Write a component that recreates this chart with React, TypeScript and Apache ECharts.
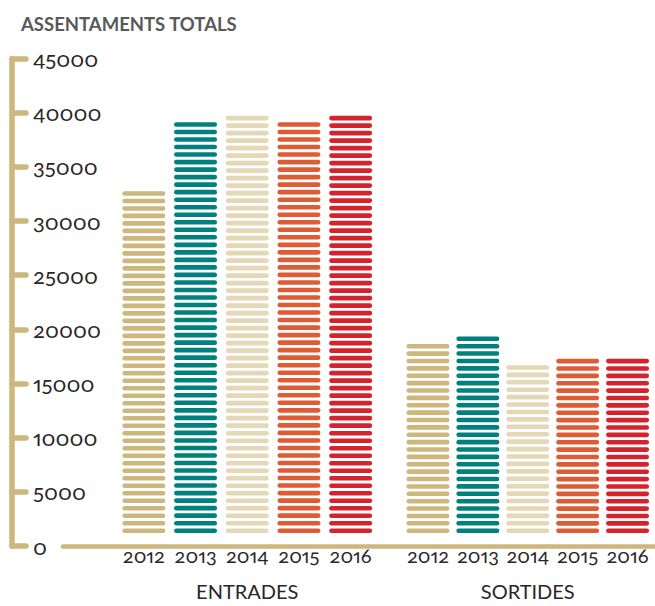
import React, { useEffect, useRef } from "react";
import * as echarts from "echarts";

const title = "ASSENTAMENTS TOTALS";
const years = ["2012", "2013", "2014", "2015", "2016"];
const entrades = [32500, 39000, 39600, 39000, 39600];
const sortides = [18100, 18800, 16100, 16700, 16700];
const groupNames = ["ENTRADES", "SORTIDES"];
const yearColors = ["#cdb77c", "#00817d", "#e5d8b7", "#dd5b35", "#d4232d"];
const yMax = 45000;
const yStep = 5000;

const TAN = "#cdb77c";
const TXT = "#2a2627";
const FONT = "Lato";

const GRID_TOP = 58.5;
const GRID_BOTTOM = 60;

function stripes(params: any, api: any) {
  const idx = api.value(0);
  const v = api.value(1);
  const base = api.coord([idx, 0]);
  const top = api.coord([idx, v]);
  const color = api.visual("color");
  const w = 43;
  const h = 4.6;
  const nominal = 7.5;
  const bottomY = base[1] - 3 - h;
  const span = bottomY - top[1];
  const n = Math.max(1, Math.round(span / nominal) + 1);
  const period = n > 1 ? span / (n - 1) : 0;
  const children: any[] = [];
  for (let k = 0; k < n; k++) {
    const y = bottomY - k * period;
    children.push({
      type: "rect",
      shape: { x: base[0] - w / 2, y, width: w, height: h, r: h / 2 },
      style: { fill: color },
    });
  }
  return { type: "group", children };
}

export default function App() {
  const ref = useRef<HTMLDivElement>(null);
  useEffect(() => {
    document.body.style.margin = "0";
    const chart = echarts.init(ref.current!, null, { renderer: "svg" });
    const hiddenY = (gi: number) => ({
      type: "value",
      gridIndex: gi,
      min: 0,
      max: yMax,
      interval: yStep,
      show: false,
    });
    const catX = (gi: number, name: string) => ({
      type: "category",
      gridIndex: gi,
      data: years,
      axisLine: { show: false },
      axisTick: { show: false },
      axisLabel: {
        interval: 0,
        fontFamily: FONT,
        fontSize: 20,
        color: TXT,
        margin: 9,
      },
      name,
      nameLocation: "middle",
      nameGap: 45,
      nameTextStyle: { fontFamily: FONT, fontSize: 20, color: TXT },
    });
    const mk = (arr: number[]) =>
      arr.map((v, i) => ({ value: [i, v], itemStyle: { color: yearColors[i] } }));
    chart.setOption({
      animation: false,
      title: {
        text: title,
        left: 16,
        top: 9,
        textStyle: {
          fontFamily: FONT,
          fontWeight: "bold",
          fontSize: 18.5,
          color: "#58595b",
        },
      },
      grid: [
        { left: 12, right: 0, top: GRID_TOP, bottom: GRID_BOTTOM },
        { left: 63, right: 0, top: GRID_TOP, bottom: GRID_BOTTOM },
        { left: 118, width: 258.5, top: GRID_TOP, bottom: GRID_BOTTOM },
        { left: 403, width: 249.5, top: GRID_TOP, bottom: GRID_BOTTOM },
      ],
      xAxis: [
        { type: "value", gridIndex: 0, show: false },
        {
          type: "value",
          gridIndex: 1,
          axisLine: {
            show: true,
            lineStyle: { color: TAN, width: 4.5, cap: "round" },
          },
          axisTick: { show: false },
          axisLabel: { show: false },
          splitLine: { show: false },
        },
        catX(2, groupNames[0]),
        catX(3, groupNames[1]),
      ],
      yAxis: [
        {
          type: "value",
          gridIndex: 0,
          min: 0,
          max: yMax,
          interval: yStep,
          axisLine: {
            show: true,
            lineStyle: { color: TAN, width: 5.5, cap: "round" },
          },
          axisTick: {
            show: true,
            inside: true,
            length: 14,
            lineStyle: { color: TAN, width: 5.5, cap: "round" },
          },
          axisLabel: {
            inside: true,
            margin: 21,
            fontFamily: FONT,
            fontSize: 22,
            color: TXT,
            verticalAlign: "middle",
            formatter: (v: number) => String(v),
          },
          splitLine: { show: false },
        },
        hiddenY(1),
        hiddenY(2),
        hiddenY(3),
      ],
      series: [
        {
          type: "custom",
          xAxisIndex: 2,
          yAxisIndex: 2,
          renderItem: stripes,
          data: mk(entrades),
          encode: { x: 0, y: 1 },
        },
        {
          type: "custom",
          xAxisIndex: 3,
          yAxisIndex: 3,
          renderItem: stripes,
          data: mk(sortides),
          encode: { x: 0, y: 1 },
        },
      ],
    });
    const patch = () => {
      const el = ref.current;
      if (!el) return;
      el.querySelectorAll("text, tspan").forEach((t: any) => {
        t.style.setProperty("font-feature-settings", '"onum" 1, "pnum" 1', "important");
        t.style.setProperty("font-variant-numeric", "oldstyle-nums proportional-nums", "important");
      });
    };
    chart.on("finished", patch);
    chart.getZr().refreshImmediately();
    patch();
    const t1 = setTimeout(patch, 50);
    return () => {
      clearTimeout(t1);
      chart.dispose();
    };
  }, []);
  return <div id="chartbox" ref={ref} style={{ width: 655, height: 606 }} />;
}
